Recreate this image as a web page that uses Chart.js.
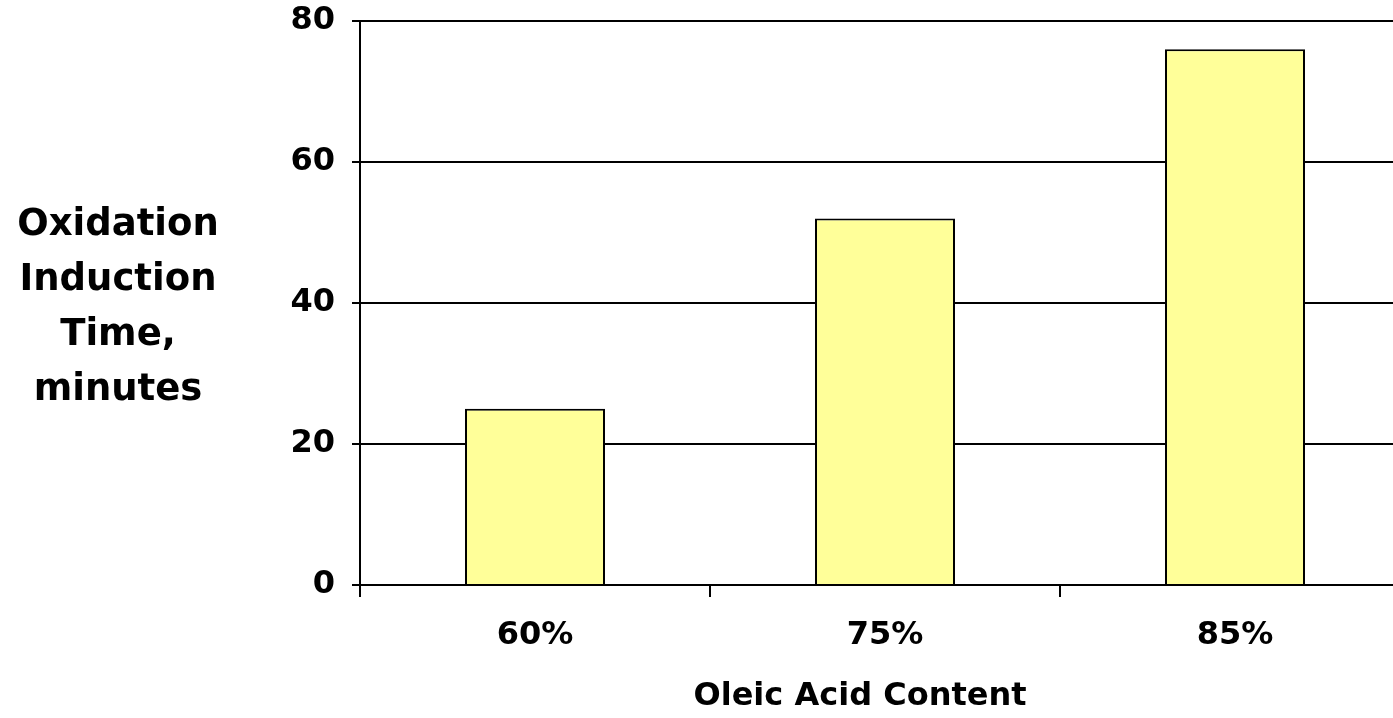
<!DOCTYPE html>
<html>
<head>
<meta charset="utf-8">
<script src="https://cdn.jsdelivr.net/npm/chart.js@4"></script>
<style>
  html, body { margin: 0; padding: 0; overflow: hidden; background: #fff; }
  #wrap { width: 1410px; height: 718px; }
</style>
</head>
<body>
<div id="wrap"><canvas id="myChart"></canvas></div>
<script>
var categories = ['60%', '75%', '85%'];
var inductionTimes = [25, 52, 76];
var yTicks = [0, 20, 40, 60, 80];
var yTitleLines = ['Oxidation', 'Induction', 'Time,', 'minutes'];
var xTitle = 'Oleic Acid Content';

// both axis titles sit a bit off the plot centre in the original, so draw them by hand
var axisTitles = {
    id: 'axisTitles',
    afterDraw: function(chart) {
        var c = chart.ctx;
        var area = chart.chartArea;
        var lineGap = 55;
        var mid = (area.top + area.bottom) / 2 + 5;
        var start = mid - (yTitleLines.length - 1) / 2 * lineGap;
        c.save();
        c.fillStyle = '#000';
        c.textAlign = 'center';
        c.textBaseline = 'middle';
        c.font = 'bold 37px "DejaVu Sans"';
        yTitleLines.forEach(function(line, i) {
            c.fillText(line, 118, start + i * lineGap);
        });
        c.font = 'bold 32px "DejaVu Sans"';
        c.fillText(xTitle, 860, 697);
        c.restore();
    }
};

var tickFont = { family: 'DejaVu Sans', size: 32, weight: 'bold' };

var ctx = document.getElementById('myChart').getContext('2d');
var myChart = new Chart(ctx, {
    type: 'bar',
    data: {
        labels: categories,
        datasets: [{
            label: 'Oxidation Induction Time',
            data: inductionTimes,
            backgroundColor: '#FFFF99',
            borderColor: '#000',
            borderWidth: 2,
            barPercentage: 0.4,
            categoryPercentage: 1
        }]
    },
    options: {
        responsive: true,
        maintainAspectRatio: false,
        animation: false,
        layout: { padding: { top: 21, left: 0, right: 0, bottom: 0 } },
        plugins: {
            legend: { display: false },
            tooltip: { enabled: false }
        },
        scales: {
            x: {
                grid: { drawOnChartArea: false, offset: true, tickLength: 12, color: '#000', lineWidth: 2 },
                border: { color: '#000', width: 2 },
                ticks: { color: '#000', font: tickFont, padding: 19 },
                afterFit: function(s) {
                    s.height = 133;
                    s.paddingLeft = 0;
                    s.paddingRight = 0;
                }
            },
            y: {
                min: yTicks[0],
                max: yTicks[yTicks.length - 1],
                ticks: { stepSize: yTicks[1] - yTicks[0], color: '#000', font: tickFont, padding: 17 },
                grid: { color: '#000', lineWidth: 2, tickLength: 8 },
                border: { color: '#000', width: 2 },
                afterFit: function(s) {
                    s.width = 360;
                    s.paddingTop = 0;
                    s.paddingBottom = 0;
                }
            }
        }
    },
    plugins: [axisTitles]
});
</script>
</body>
</html>
